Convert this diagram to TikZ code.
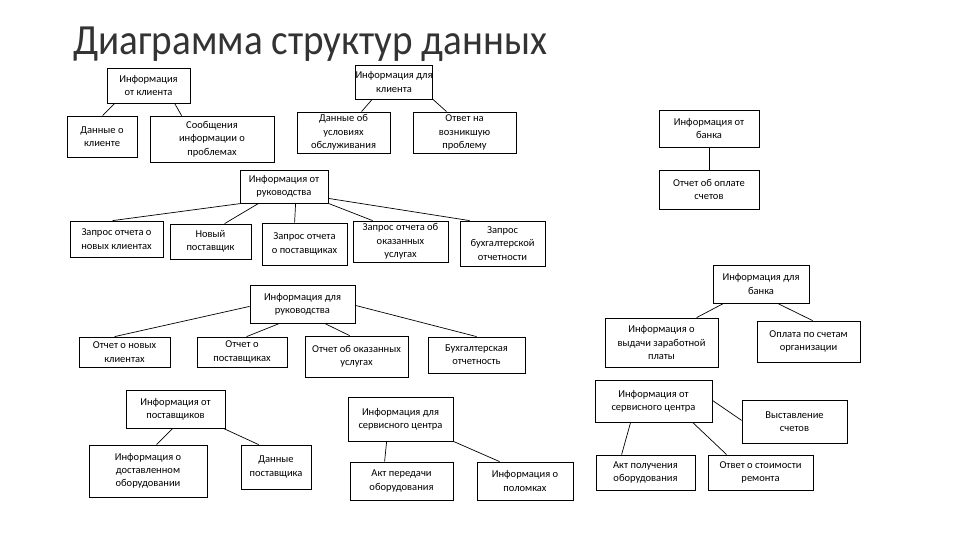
\documentclass[tikz,border=0pt]{standalone}
\usepackage{fontspec}
\setmainfont{Carlito}
\newfontfamily\titlefont[FakeStretch=0.91]{Carlito}
\begin{document}
\begin{tikzpicture}[x=1pt,y=-1pt,
  bx/.style={draw=black,line width=0.8pt,inner sep=0pt,align=center,
    font=\fontsize{10.5}{13.3}\selectfont},
  ln/.style={draw=black,line width=0.7pt},
  ttl/.style={anchor=base west,inner sep=0pt,text=black!80,font=\titlefont\fontsize{43}{43}\selectfont}]
\newcommand{\bx}[6]{\node[bx,minimum width={(#4-#2)*1pt},minimum height={(#5-#3)*1pt}] (#1) at ({(#2+#4)/2},{(#3+#5)/2}) {#6};}
\useasboundingbox (0,0) rectangle (960,540);
\node[ttl] (title) at (73,55) {Диаграмма структур данных};
% boxes
\bx{ik}{107}{68}{190}{103}{Информация\\от клиента}
\bx{dk}{67}{116}{137}{157}{Данные о\\клиенте}
\bx{sip}{150}{116}{274}{162}{Сообщения\\информации о\\проблемах}
\bx{idk}{356}{65}{432}{99}{Информация для\\клиента}
\bx{duo}{297}{112}{390}{153}{Данные об\\условиях\\обслуживания}
\bx{onv}{413}{112}{516}{153}{Ответ на\\возникшую\\проблему}
\bx{ib}{659}{110}{759}{147}{Информация от\\банка}
\bx{oos}{659}{170}{759}{209}{Отчет об оплате\\счетов}
\bx{ir}{240}{170}{328}{203}{Информация от\\руководства}
\bx{zk}{70}{221}{163}{257}{Запрос отчета о\\новых клиентах}
\bx{np}{170}{224}{251}{259}{Новый\\поставщик}
\bx{zp}{262}{223}{347}{265}{Запрос отчета\\о поставщиках}
\bx{zu}{353}{221}{448}{262}{Запрос отчета об\\оказанных\\услугах}
\bx{zb}{460}{221}{545}{266}{Запрос\\бухгалтерской\\отчетности}
\bx{iru}{250}{285}{355}{323}{Информация для\\руководства}
\bx{onk}{79}{337}{170}{367}{Отчет о новых\\клиентах}
\bx{op}{197}{337}{287}{367}{Отчет о\\поставщиках}
\bx{oou}{305}{336}{408}{377}{Отчет об оказанных\\услугах}
\bx{bo}{428}{337}{525}{373}{Бухгалтерская\\отчетность}
\bx{idb}{713}{265}{809}{303}{Информация для\\банка}
\bx{izp}{605}{318}{718}{367}{Информация о\\выдачи заработной\\платы}
\bx{opso}{757}{321}{860}{362}{Оплата по счетам\\организации}
\bx{ip}{126}{390}{225}{428}{Информация от\\поставщиков}
\bx{ido}{89}{445}{207}{497}{Информация о\\доставленном\\оборудовании}
\bx{dp}{241}{445}{311}{489}{Данные\\поставщика}
\bx{isc}{348}{397}{453}{441}{Информация для\\сервисного центра}
\bx{apo}{350}{462}{453}{500}{Акт передачи\\оборудования}
\bx{ipo}{477}{462}{573}{500}{Информация о\\поломках}
\bx{isr}{595}{380}{712}{422}{Информация от\\сервисного центра}
\bx{vs}{742}{400}{847}{443}{Выставление\\счетов}
\bx{apol}{596}{455}{695}{490}{Акт получения\\оборудования}
\bx{osr}{708}{455}{813}{490}{Ответ о стоимости\\ремонта}
% connectors
\draw[ln] ([xshift=8pt]ik.south west) -- ([xshift=36pt]dk.north west);
\draw[ln] ([xshift=68pt]ik.south west) -- ([xshift=32pt]sip.north west);
\draw[ln] ([xshift=17pt]idk.south west) -- ([xshift=65pt]duo.north west);
\draw[ln] (idk.south east) -- ([xshift=34pt]onv.north west);
\draw[ln] (ib.south) -- (oos.north);
\draw[ln] ([xshift=2pt]ir.south west) -- ([xshift=43pt]zk.north west);
\draw[ln] ([xshift=19pt]ir.south west) -- ([xshift=55pt]np.north west);
\draw[ln] ([xshift=56pt]ir.south west) -- ([xshift=33pt]zp.north west);
\draw[ln] (ir.south east) -- ([xshift=20pt]zu.north west);
\draw[ln] ([yshift=5pt]ir.south east) -- ([xshift=10pt]zb.north west);
\draw[ln] ([yshift=17pt]iru.south west) -- ([xshift=36pt]onk.north west);
\draw[ln] ([xshift=30pt]iru.south west) -- ([xshift=50pt]op.north west);
\draw[ln] ([xshift=75pt]iru.south west) -- ([xshift=45pt]oou.north west);
\draw[ln] ([yshift=18pt]iru.south east) -- ([xshift=49pt]bo.north west);
\draw[ln] ([xshift=11pt]idb.south west) -- ([xshift=92pt]izp.north west);
\draw[ln] ([xshift=65pt]idb.south west) -- ([xshift=56pt]opso.north west);
\draw[ln] ([xshift=47pt]ip.south west) -- ([xshift=68pt]ido.north west);
\draw[ln] ([xshift=-2pt]ip.south east) -- ([xshift=18pt]dp.north west);
\draw[ln] ([xshift=39pt]isc.south west) -- ([xshift=35pt]apo.north west);
\draw[ln] (isc.south east) -- ([xshift=23pt]ipo.north west);
\draw[ln] ([xshift=36pt]isr.south west) -- ([xshift=26pt]apol.north west);
\draw[ln] ([xshift=98pt]isr.south west) -- ([xshift=19pt]osr.north west);
\draw[ln] ([yshift=22pt]isr.south east) -- ([yshift=23pt]vs.south west);
\end{tikzpicture}
\end{document}
